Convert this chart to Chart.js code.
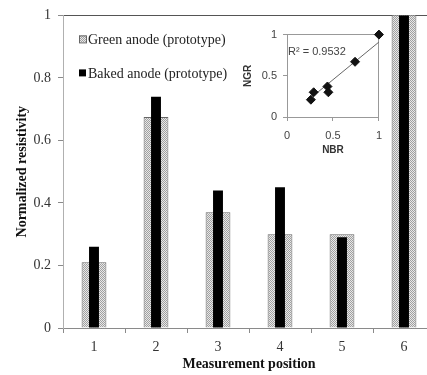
<!DOCTYPE html>
<html>
<head>
<meta charset="utf-8">
<script src="https://cdn.jsdelivr.net/npm/chart.js@4.4.1/dist/chart.umd.min.js"></script>
<style>
  html, body { margin: 0; padding: 0; background: #fff; overflow: hidden; }
  #wrap { position: relative; width: 440px; height: 375px; }
  #mainChart { position: absolute; left: 0; top: 0; }
  #insetChart { position: absolute; left: 235px; top: 22px; }
</style>
</head>
<body>
<div id="wrap">
  <canvas id="mainChart" width="440" height="375"></canvas>
  <canvas id="insetChart" width="155" height="140"></canvas>
</div>
<script>
// main bar chart data
const positions = ["1", "2", "3", "4", "5", "6"];
const greenAnode = [0.21, 0.675, 0.37, 0.30, 0.30, 1.2];
const bakedAnode = [0.26, 0.74, 0.44, 0.45, 0.29, 1.2];
const seriesNames = ["Green anode (prototype)", "Baked anode (prototype)"];

// inset scatter data
const nbr = [0.26, 0.74, 0.44, 0.45, 0.29, 1.0];
const ngr = [0.21, 0.67, 0.37, 0.30, 0.30, 1.0];
const trendNbr = [0.29, 1.0];
const trendNgr = [0.26, 0.91];
const rSquaredText = "R\u00B2 = 0.9532";

const serif = "'Liberation Serif', 'Times New Roman', serif";
const sans = "'Liberation Sans', Arial, sans-serif";

const makeStipple = () => {
  const c = document.createElement("canvas");
  c.width = 2;
  c.height = 2;
  const g = c.getContext("2d");
  g.fillStyle = "#e8e8e8";
  g.fillRect(0, 0, 2, 2);
  g.fillStyle = "#a0a0a0";
  g.fillRect(0, 0, 1, 1);
  g.fillRect(1, 1, 1, 1);
  return g.createPattern(c, "repeat");
};
const stipple = makeStipple();

// legend drawn inside the plot area
const insideLegend = {
  id: "insideLegend",
  afterDraw(chart) {
    const { ctx, chartArea } = chart;
    const rows = [24, 58];
    ctx.save();
    ctx.font = "14px " + serif;
    ctx.textBaseline = "middle";
    chart.data.datasets.forEach((ds, i) => {
      const x = chartArea.left + 16;
      const y = chartArea.top + rows[i];
      ctx.fillStyle = ds.backgroundColor;
      ctx.fillRect(x, y - 4, 7, 7);
      if (ds.borderWidth) {
        ctx.strokeStyle = ds.borderColor;
        ctx.lineWidth = 1;
        ctx.strokeRect(x + 0.5, y - 3.5, 7, 7);
      }
      ctx.fillStyle = "#222";
      ctx.fillText(ds.label, x + 9, y + 1);
    });
    ctx.restore();
  },
};

new Chart(document.getElementById("mainChart").getContext("2d"), {
  type: "bar",
  data: {
    labels: positions,
    datasets: [
      {
        label: seriesNames[0],
        data: greenAnode,
        backgroundColor: stipple,
        borderColor: "#666",
        borderWidth: 1,
        borderSkipped: "bottom",
        barPercentage: 0.4,
        categoryPercentage: 1,
        grouped: false,
        order: 2,
      },
      {
        label: seriesNames[1],
        data: bakedAnode,
        backgroundColor: "#000",
        borderWidth: 0,
        barPercentage: 0.16,
        categoryPercentage: 1,
        grouped: false,
        order: 1,
      },
    ],
  },
  options: {
    responsive: false,
    animation: false,
    layout: { padding: { top: 14, right: 5, left: 0, bottom: 0 } },
    plugins: { legend: { display: false }, tooltip: { enabled: false } },
    scales: {
      x: {
        grid: { drawOnChartArea: false, tickLength: 5, color: "#8a8a8a", offset: true },
        border: { color: "#8a8a8a" },
        ticks: { padding: 6, color: "#333", font: { family: serif, size: 14 } },
        title: {
          display: true,
          text: "Measurement position",
          color: "#111",
          font: { family: serif, size: 14, weight: "bold" },
          padding: { top: 0, bottom: 2 },
        },
        afterFit: (s) => { s.height = 47; },
      },
      y: {
        min: 0,
        max: 1,
        ticks: {
          stepSize: 0.2,
          padding: 7,
          color: "#333",
          font: { family: serif, size: 14 },
          callback: (v) => String(+v.toFixed(1)),
        },
        grid: {
          color: (c) => (c.tick && c.tick.value === 1 ? "#555" : "transparent"),
          tickColor: "#8a8a8a",
          tickLength: 5,
        },
        border: { color: "#b0b0b0" },
        title: {
          display: true,
          text: "Normalized resistivity",
          color: "#111",
          font: { family: serif, size: 14, weight: "bold" },
          padding: { top: 14, bottom: 0 },
        },
        afterFit: (s) => { s.width = 63; },
      },
    },
  },
  plugins: [insideLegend],
});

// R² label inside the inset
const rSquaredLabel = {
  id: "rSquaredLabel",
  afterDatasetsDraw(chart) {
    const { ctx, scales } = chart;
    ctx.save();
    ctx.font = "11px " + sans;
    ctx.fillStyle = "#444";
    ctx.textBaseline = "middle";
    ctx.fillText(rSquaredText, scales.x.getPixelForValue(0) + 1, scales.y.getPixelForValue(0.79));
    ctx.restore();
  },
};

const boxLine = (c) => (c.tick && (c.tick.value === 0 || c.tick.value === 1) ? "#999" : "transparent");

new Chart(document.getElementById("insetChart").getContext("2d"), {
  type: "scatter",
  data: {
    datasets: [
      {
        data: nbr.map((x, i) => ({ x, y: ngr[i] })),
        pointStyle: "rectRot",
        pointRadius: 4.5,
        backgroundColor: "#111",
        borderColor: "#111",
        clip: false,
      },
      {
        type: "line",
        data: trendNbr.map((x, i) => ({ x, y: trendNgr[i] })),
        borderColor: "#666",
        borderWidth: 1,
        pointRadius: 0,
        showLine: true,
      },
    ],
  },
  options: {
    responsive: false,
    animation: false,
    layout: { padding: { top: 9, right: 9, left: 0, bottom: 0 } },
    plugins: { legend: { display: false }, tooltip: { enabled: false } },
    scales: {
      x: {
        type: "linear",
        min: 0,
        max: 1,
        ticks: { stepSize: 0.5, padding: 8, color: "#444", font: { family: sans, size: 11 }, callback: (v) => String(v) },
        grid: { color: boxLine, tickColor: "#999", tickLength: 4 },
        border: { color: "#999" },
        title: {
          display: true,
          text: "NBR",
          color: "#333",
          font: { family: sans, size: 10, weight: "bold" },
          padding: { top: 0, bottom: 6 },
        },
        afterFit: (s) => { s.height = 45; },
      },
      y: {
        min: 0,
        max: 1,
        ticks: { stepSize: 0.5, padding: 6, color: "#444", font: { family: sans, size: 11 }, callback: (v) => String(v) },
        grid: { color: boxLine, tickColor: "#999", tickLength: 4 },
        border: { color: "#999" },
        title: {
          display: true,
          text: "NGR",
          color: "#333",
          font: { family: sans, size: 10, weight: "bold" },
          padding: { top: 7, bottom: 0 },
        },
        afterFit: (s) => { s.width = 52; },
      },
    },
  },
  plugins: [rSquaredLabel],
});
</script>
</body>
</html>
